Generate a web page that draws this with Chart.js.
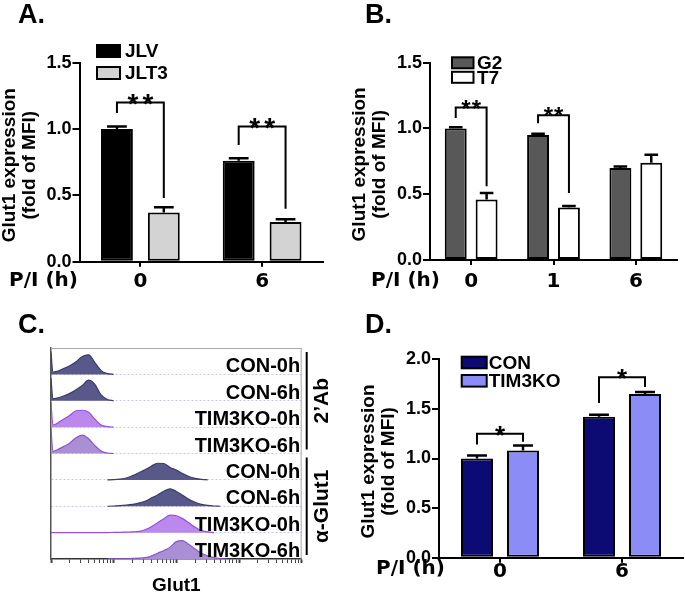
<!DOCTYPE html>
<html><head><meta charset="utf-8">
<script src="https://cdn.jsdelivr.net/npm/chart.js@4/dist/chart.umd.min.js"></script>
<style>
html,body{margin:0;padding:0;background:#fff;}
#wrap{position:relative;width:685px;height:592px;overflow:hidden;background:#fff;}
canvas{position:absolute;}
.lbl{position:absolute;font:bold 27px "Liberation Sans",Arial,sans-serif;line-height:27px;color:#000;}
</style></head><body>
<div id="wrap">
<canvas id="cA" width="340" height="292" style="left:0;top:0;width:340px;height:292px"></canvas>
<canvas id="cB" width="345" height="292" style="left:340px;top:0;width:345px;height:292px"></canvas>
<canvas id="cC" width="340" height="300" style="left:0;top:292px;width:340px;height:300px"></canvas>
<canvas id="cD" width="345" height="300" style="left:340px;top:292px;width:345px;height:300px"></canvas>
<div class="lbl" style="left:18px;top:1px">A.</div>
<div class="lbl" style="left:365px;top:1px">B.</div>
<div class="lbl" style="left:18px;top:311px">C.</div>
<div class="lbl" style="left:365px;top:311px">D.</div>
</div>
<script>
// ---------- Panel A data ----------
const catsA = ['0', '6'];
const jlvVals = [1.00, 0.76];
const jlvErr = [0.02, 0.02];
const jlt3Vals = [0.37, 0.30];
const jlt3Err = [0.04, 0.02];
const sigA = [
  {cat: 0, left: 1.12, top: 1.20, right: 0.48, text: '**'},
  {cat: 1, left: 0.88, top: 1.02, right: 0.40, text: '**'}
];
const yTicksA = [0, 0.5, 1.0, 1.5];

// ---------- Panel B data ----------
const catsB = ['0', '1', '6'];
const g2Vals = [1.00, 0.95, 0.70];
const g2Err = [0.01, 0.01, 0.01];
const t7Vals = [0.46, 0.40, 0.74];
const t7Err = [0.05, 0.01, 0.06];
const sigB = [
  {cat: 0, left: 1.08, top: 1.16, right: 0.56, text: '**'},
  {cat: 1, left: 1.04, top: 1.10, right: 0.51, text: '**'}
];
const yTicksB = [0, 0.5, 1.0, 1.5];

// ---------- Panel D data ----------
const catsD = ['0', '6'];
const conVals = [1.00, 1.42];
const conErr = [0.03, 0.02];
const timVals = [1.08, 1.65];
const timErr = [0.05, 0.02];
const sigD = [
  {cat: 0, left: 1.14, top: 1.25, right: 1.17, text: '*'},
  {cat: 1, left: 1.56, top: 1.82, right: 1.72, text: '*'}
];
const yTicksD = [0, 0.5, 1.0, 1.5, 2.0];

// ---------- Panel C data (flow histograms, height as fraction of row) ----------
const histLabels = ['CON-0h', 'CON-6h', 'TIM3KO-0h', 'TIM3KO-6h', 'CON-0h', 'CON-6h', 'TIM3KO-0h', 'TIM3KO-6h'];
const histGroups = [{text: '2\u2019Ab', first: 0, last: 3}, {text: '\u03b1-Glut1', first: 4, last: 7}];
const histBins = [0, 0.03, 0.1, 0.2, 0.3, 0.4, 0.5, 0.6, 0.7, 0.8, 0.9, 1.0, 1.1, 1.2, 1.3, 1.4, 1.5, 1.6, 1.7, 1.8, 1.9, 2.0, 2.1, 2.2, 2.3, 2.4, 2.5, 2.6, 2.7, 2.8, 2.9, 3.0];
const N = null;
const histCon0Ab = [0.86, 0.08, 0.12, 0.22, 0.33, 0.48, 0.68, 0.74, 0.45, 0.14, 0.03, 0, N, N, N, N, N, N, N, N, N, N, N, N, N, N, N, N, N, N, N, N];
const histCon6Ab = [0.86, 0.07, 0.10, 0.18, 0.28, 0.42, 0.58, 0.78, 0.62, 0.22, 0.05, 0, N, N, N, N, N, N, N, N, N, N, N, N, N, N, N, N, N, N, N, N];
const histTim0Ab = [0.94, 0.08, 0.15, 0.30, 0.45, 0.62, 0.64, 0.56, 0.30, 0.08, 0.02, 0, N, N, N, N, N, N, N, N, N, N, N, N, N, N, N, N, N, N, N, N];
const histTim6Ab = [0.95, 0.08, 0.14, 0.26, 0.40, 0.60, 0.70, 0.56, 0.30, 0.09, 0.02, 0, N, N, N, N, N, N, N, N, N, N, N, N, N, N, N, N, N, N, N, N];
const histCon0Glut = [N, N, N, N, N, N, N, N, N, N, 0, 0.01, 0.03, 0.07, 0.16, 0.27, 0.38, 0.52, 0.63, 0.62, 0.47, 0.37, 0.24, 0.13, 0.06, 0.02, 0, N, N, N, N, N];
const histCon6Glut = [N, N, N, N, N, N, N, N, N, N, 0, 0.01, 0.02, 0.04, 0.07, 0.12, 0.19, 0.31, 0.43, 0.57, 0.66, 0.56, 0.42, 0.26, 0.15, 0.07, 0.03, 0.01, 0, N, N, N];
const histTim0Glut = [0, 0, 0, 0, 0, 0, 0, 0, 0, 0, 0, 0.01, 0.01, 0.02, 0.03, 0.05, 0.11, 0.22, 0.37, 0.53, 0.66, 0.64, 0.53, 0.37, 0.20, 0.08, 0.03, 0, N, N, N, N];
const histTim6Glut = [N, N, N, N, N, N, N, N, N, N, 0, 0.01, 0.01, 0.01, 0.02, 0.03, 0.05, 0.11, 0.22, 0.32, 0.45, 0.66, 0.70, 0.55, 0.38, 0.22, 0.12, 0.05, 0.01, 0, N, N];

// ---------- shared styling ----------
const FONT = '"Liberation Sans", Arial, Helvetica, sans-serif';
const WIDE = '"DejaVu Sans", Verdana, sans-serif';
Chart.defaults.font.family = FONT;
Chart.defaults.color = '#000';

const barDecor = {
  id: 'barDecor',
  afterDatasetsDraw(chart, args, o) {
    const ctx = chart.ctx, ys = chart.scales.y, ca = chart.chartArea;
    ctx.save();
    ctx.strokeStyle = '#000'; ctx.fillStyle = '#000';
    // error bars (upper only)
    chart.data.datasets.forEach((ds, di) => {
      const meta = chart.getDatasetMeta(di);
      meta.data.forEach((el, i) => {
        const yTop = ys.getPixelForValue(ds.data[i] + ds.errorBars[i]);
        const cw = el.width * 0.62;
        ctx.lineWidth = 2.5;
        ctx.beginPath();
        ctx.moveTo(el.x, el.y); ctx.lineTo(el.x, yTop);
        ctx.moveTo(el.x - cw / 2, yTop); ctx.lineTo(el.x + cw / 2, yTop);
        ctx.stroke();
      });
    });
    // significance brackets
    o.sig.forEach(s => {
      const x1 = chart.getDatasetMeta(0).data[s.cat].x;
      const x2 = chart.getDatasetMeta(1).data[s.cat].x;
      const yl = ys.getPixelForValue(s.left), yt = ys.getPixelForValue(s.top), yr = ys.getPixelForValue(s.right);
      ctx.lineWidth = 2; ctx.lineJoin = 'miter';
      ctx.beginPath(); ctx.moveTo(x1, yl); ctx.lineTo(x1, yt); ctx.lineTo(x2, yt); ctx.lineTo(x2, yr); ctx.stroke();
      ctx.save();
      ctx.font = 'bold ' + o.starSize + 'px ' + FONT;
      ctx.textAlign = 'center'; ctx.textBaseline = 'alphabetic';
      if ('letterSpacing' in ctx) ctx.letterSpacing = o.starGap + 'px';
      ctx.fillText(s.text, (x1 + x2) / 2 + o.starGap / 2, yt - 1 + o.starSize * 0.42);
      ctx.restore();
    });
    // legend
    const L = o.legend;
    chart.data.datasets.forEach((ds, di) => {
      const x = L.x, y = L.y + di * L.gap;
      ctx.fillStyle = ds.backgroundColor; ctx.fillRect(x, y, L.w, L.h);
      ctx.lineWidth = 2; ctx.strokeStyle = '#000'; ctx.strokeRect(x, y, L.w, L.h);
      ctx.fillStyle = '#000'; ctx.font = 'bold ' + L.size + 'px ' + FONT;
      ctx.textAlign = 'left'; ctx.textBaseline = 'middle';
      ctx.fillText(ds.label, x + L.w + L.pad, y + L.h / 2 + 1);
    });
    // y axis title (two lines, rotated)
    const cy = (ca.top + ca.bottom) / 2 + 3;
    ctx.font = 'bold 19px ' + FONT; ctx.textAlign = 'center'; ctx.textBaseline = 'middle';
    o.yTitle.forEach((line, k) => {
      ctx.save(); ctx.translate(ca.left - 70 + k * 20, cy); ctx.rotate(-Math.PI / 2);
      ctx.fillText(line, 0, 0); ctx.restore();
    });
    // x lead label
    ctx.font = 'bold 20px ' + WIDE; ctx.textAlign = 'right'; ctx.textBaseline = 'middle';
    ctx.fillText(o.lead, o.leadRight, ca.bottom + o.leadDy);
    ctx.restore();
  }
};

function barChart(id, cats, sets, yTicks, yMax, box, deco, cp, bp, tickPad) {
  return new Chart(document.getElementById(id), {
    type: 'bar',
    data: {
      labels: cats,
      datasets: sets.map(s => ({
        label: s.label, data: s.data, errorBars: s.err,
        backgroundColor: s.color, borderColor: '#000', borderWidth: 2, borderSkipped: false,
        categoryPercentage: cp, barPercentage: bp
      }))
    },
    options: {
      responsive: false, animation: false, events: [],
      layout: {padding: {left: 0, top: box.top, right: box.right, bottom: 0}},
      plugins: {legend: {display: false}, tooltip: {enabled: false}, barDecor: deco},
      scales: {
        x: {
          grid: {offset: false, drawOnChartArea: false, drawTicks: true, tickLength: 5, color: '#000', lineWidth: 2},
          border: {display: true, color: '#000', width: 2},
          ticks: {font: {family: WIDE, weight: 'bold', size: 20}, color: '#000', padding: tickPad, maxRotation: 0},
          afterFit: s => { s.height = box.xh; }
        },
        y: {
          min: 0, max: yMax,
          afterBuildTicks: s => { s.ticks = yTicks.map(v => ({value: v})); },
          grid: {drawOnChartArea: false, drawTicks: true, tickLength: 7, color: '#000', lineWidth: 2},
          border: {display: true, color: '#000', width: 2},
          ticks: {font: {family: FONT, weight: 'bold', size: 18}, color: '#000', padding: 1,
                  callback: v => Number(v).toFixed(1)},
          afterFit: s => { s.width = box.yw; }
        }
      }
    },
    plugins: [barDecor]
  });
}

const yTitle = ['Glut1 expression', '(fold of MFI)'];

barChart('cA', catsA, [
  {label: 'JLV', data: jlvVals, err: jlvErr, color: '#000000'},
  {label: 'JLT3', data: jlt3Vals, err: jlt3Err, color: '#d3d3d3'}
], yTicksA, 1.5, {top: 62.7, right: 17, xh: 30.3, yw: 79.5},
{sig: sigA, starSize: 28, starGap: 4, legend: {x: 97, y: 45, w: 23, h: 12, gap: 22, pad: 5, size: 19},
 yTitle: yTitle, lead: 'P/I (h)', leadRight: 78, leadDy: 19}, 0.77, 0.68, 3);

barChart('cB', catsB, [
  {label: 'G2', data: g2Vals, err: g2Err, color: '#585858'},
  {label: 'T7', data: t7Vals, err: t7Err, color: '#ffffff'}
], yTicksB, 1.5, {top: 62.7, right: 8, xh: 32, yw: 90},
{sig: sigB, starSize: 24, starGap: 1, legend: {x: 112, y: 57.3, w: 21.5, h: 11, gap: 14.5, pad: 3.5, size: 19},
 yTitle: yTitle, lead: 'P/I (h)', leadRight: 100, leadDy: 21}, 0.75, 0.71, 5);

barChart('cD', catsD, [
  {label: 'CON', data: conVals, err: conErr, color: '#0b0b73'},
  {label: 'TIM3KO', data: timVals, err: timErr, color: '#8c8cf6'}
], yTicksD, 2.0, {top: 67.3, right: 2, xh: 34.3, yw: 99},
{sig: sigD, starSize: 26, starGap: 0, legend: {x: 121.7, y: 64.7, w: 25, h: 11.6, gap: 18.3, pad: 2, size: 19},
 yTitle: yTitle, lead: 'P/I (h)', leadRight: 105, leadDy: 11.5}, 0.754, 0.696, -3);

// ---------- Panel C ----------
const histRows = [histCon0Ab, histCon6Ab, histTim0Ab, histTim6Ab, histCon0Glut, histCon6Glut, histTim0Glut, histTim6Glut];
const rowStyle = [
  ['#58588a', '#3c3c6c'], ['#58588a', '#3c3c6c'], ['#bb88ee', '#9850dc'], ['#aa8fd4', '#8c58c8'],
  ['#58588a', '#3c3c6c'], ['#58588a', '#3c3c6c'], ['#bb88ee', '#9850dc'], ['#aa8fd4', '#8c58c8']
];
const nRows = histLabels.length;

const histDecor = {
  id: 'histDecor',
  afterDatasetsDraw(chart) {
    const {ctx, chartArea: ca} = chart;
    const y = chart.scales.y;
    ctx.save();
    ctx.strokeStyle = '#a8a8a8'; ctx.lineWidth = 1;
    ctx.beginPath();
    ctx.moveTo(ca.left, ca.top + 0.5); ctx.lineTo(ca.right, ca.top + 0.5);
    ctx.moveTo(ca.right - 0.5, ca.top); ctx.lineTo(ca.right - 0.5, ca.bottom);
    ctx.stroke();
    ctx.fillStyle = '#000'; ctx.font = 'bold 20px ' + FONT;
    ctx.textAlign = 'right'; ctx.textBaseline = 'alphabetic';
    histLabels.forEach((t, r) => {
      ctx.fillText(t, ca.right - 1.5, y.getPixelForValue(nRows - 1 - r) - 2);
    });
    histGroups.forEach(g => {
      const y1 = y.getPixelForValue(nRows - g.first) + 4;
      const y2 = y.getPixelForValue(nRows - 1 - g.last) - 4;
      ctx.strokeStyle = '#000'; ctx.lineWidth = 2;
      ctx.beginPath(); ctx.moveTo(ca.right + 5, y1); ctx.lineTo(ca.right + 5, y2); ctx.stroke();
      ctx.save(); ctx.translate(ca.right + 21, (y1 + y2) / 2); ctx.rotate(-Math.PI / 2);
      ctx.font = 'bold 21px ' + FONT; ctx.textAlign = 'center'; ctx.textBaseline = 'middle';
      ctx.fillText(g.text, 0, 0); ctx.restore();
    });
    ctx.font = 'bold 19px ' + FONT; ctx.textAlign = 'center'; ctx.textBaseline = 'alphabetic';
    ctx.fillText('Glut1', (ca.left + ca.right) / 2, 299);
    ctx.restore();
  }
};

new Chart(document.getElementById('cC'), {
  type: 'line',
  data: {
    datasets: histRows.map((vals, r) => ({
      label: histLabels[r],
      data: histBins.map((x, j) => ({x: x, y: vals[j] == null ? null : (nRows - 1 - r) + vals[j]})),
      fill: {value: nRows - 1 - r},
      backgroundColor: rowStyle[r][0], borderColor: rowStyle[r][1], borderWidth: 1.2,
      pointRadius: 0, cubicInterpolationMode: 'monotone', spanGaps: false
    }))
  },
  options: {
    responsive: false, animation: false, events: [],
    layout: {padding: {left: 0, top: 56, right: 38.3, bottom: 0}},
    plugins: {legend: {display: false}, tooltip: {enabled: false}},
    scales: {
      x: {
        type: 'linear', min: 0, max: 4,
        afterBuildTicks: s => {
          const t = [];
          for (let k = 0; k <= 4; k++) {
            t.push({value: k});
            if (k < 4) for (let m = 2; m <= 9; m++) t.push({value: k + Math.log10(m)});
          }
          s.ticks = t;
        },
        grid: {drawOnChartArea: false, drawTicks: true, tickLength: 4, color: '#444',
               tickWidth: c => (c.tick && Number.isInteger(c.tick.value)) ? 2 : 1},
        border: {display: true, color: '#333', width: 1.5},
        ticks: {display: false},
        afterFit: s => { s.height = 33; }
      },
      y: {
        type: 'linear', min: 0, max: nRows,
        afterBuildTicks: s => { const t = []; for (let v = 0; v <= nRows; v++) t.push({value: v}); s.ticks = t; },
        grid: {drawTicks: false, lineWidth: 1,
               color: c => (c.tick && c.tick.value > 0 && c.tick.value < nRows) ? '#c8c8e4' : 'rgba(0,0,0,0)'},
        border: {display: true, color: '#555', width: 1.5, dash: [2, 2]},
        ticks: {display: false},
        afterFit: s => { s.width = 51; }
      }
    }
  },
  plugins: [histDecor]
});
</script>
</body></html>
